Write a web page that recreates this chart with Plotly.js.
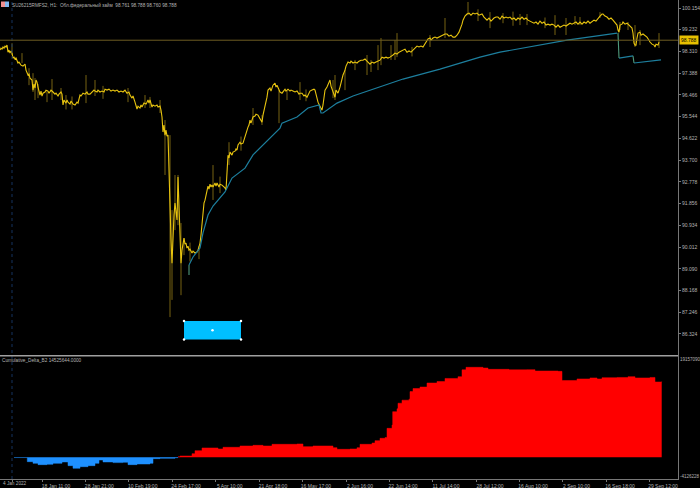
<!DOCTYPE html>
<html><head><meta charset="utf-8">
<script src="https://cdn.plot.ly/plotly-3.0.1.min.js"></script>
<style>html,body{margin:0;padding:0;background:#000;overflow:hidden}#c{width:700px;height:488px}</style>
</head><body><div id="c"></div>
<script>
// Price close path
const closeX=[0,1,2,3,4,5,6,7,8,9,10,11,12,13,14,15,16,18,19,21,23,25,26,28,29,30,32,33,34,35,36,37,38,39,40,41,42,43,45,46,48,49,51,53,55,56,58,59,61,62,63,64,66,67,68,70,71,73,75,77,78,80,81,83,85,87,88,90,92,94,95,97,98,100,102,104,105,107,109,111,113,115,117,119,121,123,125,127,129,130,132,133,135,136,137,138,140,141,142,144,146,147,148,149,150,152,153,155,157,158,160,161,162,
163,164,165,166,167,168,169,170,171,172,173,174,175,176,177,178,179,180,181,182,183,184,185,186,187,188,189,190,192,193,195,197,198,200,201,202,203,204,205,206,207,208,209,210,211,212,213,215,216,217,219,220,222,224,225,226,227,228,229,230,232,233,235,236,237,238,240,241,243,245,247,248,249,250,251,253,255,256,258,260,262,
263,265,266,267,268,270,271,273,275,276,277,279,280,282,284,285,286,288,290,291,293,295,297,299,300,302,304,305,307,309,310,312,314,315,317,318,320,322,323,324,325,327,328,330,331,333,335,336,338,340,341,342,343,345,346,348,350,351,353,355,357,359,361,363,365,367,368,370,372,374,376,378,380,382,384,386,388,390,392,393,395,397,399,401,403,405,407,409,411,413,415,417,419,421,423,425,427,428,430,431,433,435,437,439,441,443,445,447,449,451,453,455,457,459,460,462,463,465,467,469,471,473,475,477,479,481,482,484,486,487,489,491,492,494,496,498,500,502,504,506,508,510,512,514,516,518,520,522,524,526,528,530,532,534,536,538,540,542,544,546,548,550,552,554,556,558,560,562,564,566,568,570,572,574,576,578,580,582,584,586,588,590,592,594,596,598,600,602,603,605,607,609,611,613,615,617,618,619,620,622,623,625,627,629,631,632,633,634,635,636,637,638,640,641,643,645,647,649,650,652,654,655,656,658,659];
const closeP=[98.37,98.45,98.41,98.50,98.45,98.54,98.50,98.58,98.28,98.37,98.24,98.33,98.24,98.03,98.07,97.99,98.03,97.82,97.86,97.73,97.69,97.77,97.52,97.31,97.35,97.18,97.10,96.67,96.93,96.76,97.10,97.01,96.80,96.67,96.46,96.63,96.42,96.54,96.59,96.67,96.63,96.54,96.67,96.59,96.50,96.54,96.42,96.50,96.59,96.50,96.04,96.25,96.12,96.25,96.16,96.08,96.21,96.08,96.04,96.16,96.12,96.46,96.42,96.54,96.50,96.59,96.50,96.50,96.59,96.67,96.63,96.59,96.67,96.59,96.63,96.59,96.71,96.67,96.71,96.63,96.67,96.63,96.67,96.59,96.63,96.59,96.67,96.54,96.59,96.46,96.33,96.42,96.16,96.04,95.87,95.99,95.91,96.04,95.95,96.12,96.08,96.16,96.25,96.12,96.25,95.95,96.04,95.99,96.04,95.95,95.99,95.82,95.53,
94.89,95.19,94.76,94.97,94.72,94.76,93.28,91.45,90.31,89.33,90.86,91.37,91.88,91.49,91.16,92.98,92.00,90.52,89.33,89.88,90.10,90.39,90.14,90.18,89.97,90.05,89.88,89.92,89.76,89.84,89.76,89.80,89.88,90.18,90.52,91.03,91.37,91.88,92.00,92.22,92.52,92.60,92.47,92.68,92.56,92.64,92.56,92.73,92.60,92.73,92.56,92.68,92.64,92.56,92.52,92.43,93.28,93.91,93.79,94.04,93.91,94.04,94.08,94.17,94.13,94.34,94.46,94.38,94.42,94.72,94.97,95.10,95.19,95.40,95.27,95.53,95.57,95.65,95.61,95.48,95.31,
95.61,95.95,96.25,96.37,96.67,96.76,96.63,96.88,96.97,96.80,96.88,96.67,96.59,96.54,96.67,96.71,96.63,96.71,96.63,96.67,96.63,96.59,96.63,96.50,96.54,96.54,96.42,96.46,96.37,96.54,96.63,96.67,96.71,96.67,96.37,96.16,95.99,95.82,96.04,96.46,96.67,96.80,96.93,97.10,96.84,96.59,96.37,96.67,96.54,96.80,97.01,97.18,97.31,97.52,97.69,97.86,97.82,97.90,97.82,97.86,97.82,97.90,97.94,97.94,97.99,97.90,97.86,97.77,97.86,97.82,97.86,97.90,97.94,98.07,98.03,98.07,98.03,98.07,98.16,98.16,98.24,98.20,98.28,98.33,98.37,98.41,98.28,98.33,98.28,98.37,98.45,98.54,98.50,98.54,98.50,98.62,98.79,98.84,98.88,98.79,98.88,98.92,98.88,98.92,98.96,99.00,99.05,99.05,98.96,99.00,98.92,98.92,99.00,99.13,99.22,99.47,99.64,99.81,99.90,99.94,99.85,99.94,99.90,99.94,99.85,99.90,99.90,99.77,99.68,99.64,99.73,99.60,99.64,99.73,99.77,99.77,99.68,99.81,99.73,99.77,99.73,99.77,99.68,99.73,99.64,99.73,99.68,99.77,99.68,99.73,99.64,99.60,99.56,99.51,99.56,99.47,99.60,99.51,99.56,99.43,99.47,99.43,99.47,99.43,99.34,99.43,99.34,99.39,99.43,99.39,99.47,99.51,99.47,99.51,99.56,99.47,99.56,99.47,99.56,99.51,99.60,99.51,99.56,99.64,99.60,99.73,99.81,99.90,99.90,99.81,99.77,99.68,99.73,99.64,99.51,99.43,99.22,99.13,99.43,99.47,99.56,99.47,99.51,99.43,99.34,99.30,99.09,98.67,98.58,98.58,98.88,99.09,99.13,99.00,99.05,99.00,98.92,98.79,98.71,98.62,98.58,98.50,98.62,98.58,98.71];
// Wicks
const wickX=[12,22,29,33,35,38,47,52,61,66,72,86,95,103,128,145,150,160,165,170,172,175,178,181,184,190,199,213,220,229,241,253,262,279,287,300,306,333,335,345,355,367,371,378,381,391,395,397,412,430,445,468,478,490,503,513,520,527,545,555,566,575,580,600,620,628,635,640,659];
const wickHi=[98.66,98.24,97.60,97.39,97.18,96.93,96.67,97.14,96.76,96.46,96.40,97.31,97.10,96.85,96.76,96.46,96.38,96.25,95.40,94.76,91.58,93.07,93.07,91.03,90.39,90.20,90.05,93.49,93.00,94.46,94.70,95.91,95.61,96.67,96.67,97.01,96.70,97.10,97.31,97.52,97.95,98.16,97.95,98.58,98.88,98.58,98.79,99.09,98.50,99.01,99.73,100.41,100.10,99.98,99.94,100.00,99.90,99.90,99.75,99.85,99.73,99.81,99.77,99.98,99.56,99.56,99.43,99.22,99.09];
const wickLo=[98.16,97.82,96.88,96.59,96.25,96.33,96.16,96.25,96.25,95.85,95.85,96.12,96.42,96.30,96.16,95.91,95.91,95.70,93.07,87.04,87.77,90.73,90.94,87.97,89.67,89.40,89.50,92.01,92.30,93.49,94.10,95.19,95.19,95.27,96.25,96.25,96.20,96.33,96.25,96.67,97.52,97.31,97.44,97.52,97.73,97.95,97.95,98.07,98.10,98.50,98.88,99.85,99.60,99.30,99.51,99.40,99.43,99.43,99.30,99.01,99.01,99.43,99.43,99.73,99.22,99.22,98.50,98.58,98.46];
// Moving average line, with its break segments
const maX=[189,193,200,203,208,213,225,232,245,253,280,282,297,308,319,321,323,337,353,380,403,440,460,480,500,533,567,617];
const maP=[89.25,89.59,89.97,90.61,91.37,91.75,92.35,92.94,93.36,93.92,95.06,95.27,95.53,95.91,96.04,95.70,95.70,96.12,96.42,96.80,97.14,97.56,97.82,98.07,98.28,98.54,98.79,99.09];
const maX2=[619,633];
const maP2=[98.03,98.12];
const maX3=[634,661];
const maP3=[97.82,97.95];
const maBreakX=[189,189,null,618,619,null,633,634];
const maBreakP=[88.83,89.25,null,99.09,98.03,null,98.12,97.82];
// Cumulative delta
const negX=[14,27,27.3,33,38,47,53,62,68,73,80,88,95,99,103,113,123,128,137,150,153,160,175,178];
const negV=[-0.05,-0.07,-0.86,-1.19,-1.45,-1.38,-1.19,-0.92,-1.65,-2.17,-1.85,-1.65,-1.19,-0.53,-0.92,-1.05,-0.99,-1.45,-1.32,-1.19,-0.26,-0.2,-0.07,0];
const posX=[178,180,192,195,202,213,218,223,240,253,263,272,297,303,313,333,337,350,357,360,372,375,380,385,387,392,392.7,397,398,402,409,410,413,420,427,437,445,458,462,466,483,488,507,509,527,535,558,562,577,590,597,602,617,628,635,650,655,661.7];
const posV=[0.13,0.26,0.72,1.32,1.85,1.85,1.65,1.98,2.24,2.37,2.24,2.57,2.64,2.11,2.24,1.91,1.58,1.65,1.91,2.57,2.83,3.3,3.76,3.9,5.73,6.39,9.03,9.6,10.7,11.3,11.5,13.0,13.6,13.9,14.7,15.0,15.6,15.95,17.3,17.8,17.66,17.4,17.4,17.3,17.33,17.07,17.0,15.2,15.5,15.7,15.5,15.75,15.8,15.95,15.7,15.8,14.9,15.0];
// Tick labels
const priceTicks=[100.154,99.232,98.310,97.388,96.466,95.544,94.622,93.700,92.778,91.856,90.934,90.012,89.090,88.168,87.246,86.324];
const deltaTicks=[19.35,-3.85];
const deltaLabels=['19157090','-4126228'];
const timeTicks=[12,42,85.3,128.7,172,215.7,259,302,346,389,432,476,519,562.5,606,649];
const timeLabels=['','18 Jan 11:00','28 Jan 21:00','10 Feb 19:00','24 Feb 17:00','5 Apr 10:00','21 Apr 18:00','16 May 17:00','2 Jun 16:00','22 Jun 14:00','11 Jul 14:00','28 Jul 12:00','16 Aug 10:00','2 Sep 10:00','16 Sep 18:00','29 Sep 12:00'];
const firstLabel='4 Jan 2022';
const headerText='SU26215RMFS2, H1:  Обл.федеральный займ  98.761 98.788 98.760 98.788';
const indicatorText='Cumulative_Delta_B2 14525644.0000';
const lastPrice=98.788;
const rectX=[184,241];
const rectP=[86.87,86.09];

const wx=[],wy=[];
wickX.forEach((x,i)=>{wx.push(x,x,null);wy.push(wickHi[i],wickLo[i],null);});
const fam='Liberation Sans, Arial, sans-serif';
const tickFont={family:fam,size:5,color:'#b4b4b4'};
const traces=[
 {x:wx,y:wy,mode:'lines',line:{color:'#776312',width:1},hoverinfo:'skip'},
 {x:closeX,y:closeP,mode:'lines',line:{color:'#e8c40f',width:1.1},hoverinfo:'skip'},
 {x:maX,y:maP,mode:'lines',line:{color:'#1d7f9e',width:1.2},hoverinfo:'skip'},
 {x:maX2,y:maP2,mode:'lines',line:{color:'#1d7f9e',width:1.2},hoverinfo:'skip'},
 {x:maX3,y:maP3,mode:'lines',line:{color:'#1d7f9e',width:1.2},hoverinfo:'skip'},
 {x:maBreakX,y:maBreakP,mode:'lines',line:{color:'#4f9a7c',width:1.1},hoverinfo:'skip'},
 {x:[rectX[0],rectX[1],rectX[0],rectX[1],(rectX[0]+rectX[1])/2],y:[rectP[0],rectP[0],rectP[1],rectP[1],(rectP[0]+rectP[1])/2],mode:'markers',marker:{color:'#ffffff',size:2.5},hoverinfo:'skip'},
 {x:negX,y:negV,yaxis:'y2',mode:'lines',line:{shape:'hv',color:'#1e90ff',width:0.5},fill:'tozeroy',fillcolor:'#1e90ff',hoverinfo:'skip'},
 {x:posX,y:posV,yaxis:'y2',mode:'lines',line:{shape:'hv',color:'#ff0000',width:0.5},fill:'tozeroy',fillcolor:'#ff0000',hoverinfo:'skip'}
];
const layout={
 width:700,height:488,paper_bgcolor:'#000',plot_bgcolor:'#000',showlegend:false,
 margin:{l:0,r:22,t:0,b:9},
 xaxis:{range:[0,678],domain:[0,1],anchor:'y2',showgrid:false,zeroline:false,showline:true,linecolor:'#777',linewidth:1,
  tickmode:'array',tickvals:timeTicks,ticktext:timeLabels,ticks:'outside',ticklen:2,tickcolor:'#777',tickfont:tickFont,ticklabelshift:14,tickangle:0},
 yaxis:{range:[85.41,100.494],domain:[123.5/479,1],side:'right',anchor:'x',showgrid:false,zeroline:false,showline:true,linecolor:'#777',linewidth:1,
  tickmode:'array',tickvals:priceTicks,ticktext:priceTicks.map(v=>v.toFixed(3)),ticks:'outside',ticklen:2,tickcolor:'#777',tickfont:tickFont},
 yaxis2:{range:[-4.29,20.04],domain:[0,123/479],side:'right',anchor:'x',showgrid:false,zeroline:false,showline:true,linecolor:'#777',linewidth:1,
  tickmode:'array',tickvals:deltaTicks,ticktext:deltaLabels,ticks:'',tickfont:{family:fam,size:4.5,color:'#b4b4b4'}},
 shapes:[
  {type:'line',xref:'x',yref:'paper',x0:12,x1:12,y0:0,y1:1,line:{color:'#15325e',width:1,dash:'dot'}},
  {type:'line',xref:'x',yref:'y',x0:0,x1:678,y0:lastPrice,y1:lastPrice,line:{color:'#6e5c22',width:1}},
  {type:'line',xref:'x',yref:'paper',x0:0,x1:678,y0:123.3/479,y1:123.3/479,line:{color:'#a0a0a0',width:1.5}},
  {type:'rect',xref:'x',yref:'y',x0:rectX[0],x1:rectX[1],y0:rectP[0],y1:rectP[1],fillcolor:'#00bfff',line:{color:'#00bfff',width:0},layer:'below'},
  {type:'rect',xref:'paper',yref:'paper',x0:1/678,x1:5/678,y0:1-1.5/479,y1:1-7/479,fillcolor:'#f09090',line:{width:0}},
  {type:'rect',xref:'paper',yref:'paper',x0:5/678,x1:9/678,y0:1-1.5/479,y1:1-7/479,fillcolor:'#80b8f0',line:{width:0}}
 ],
 annotations:[
  {xref:'paper',yref:'paper',x:10/678,y:1-4.5/479,xanchor:'left',yanchor:'middle',showarrow:false,text:headerText,font:{family:fam,size:4.7,color:'#b4b4b4'}},
  {xref:'paper',yref:'paper',x:-0.5/678,y:1-360/479,xanchor:'left',yanchor:'middle',showarrow:false,text:indicatorText,font:{family:fam,size:4.7,color:'#b4b4b4'}},
  {xref:'paper',yref:'paper',x:0.5/678,y:-4.5/479,xanchor:'left',yanchor:'middle',showarrow:false,text:firstLabel,font:{family:fam,size:4.7,color:'#b4b4b4'}},
  {xref:'paper',yref:'y',x:1,xshift:1,y:lastPrice,xanchor:'left',yanchor:'middle',showarrow:false,text:lastPrice.toFixed(3),bgcolor:'#e8c000',borderpad:1,font:{family:fam,size:5,color:'#000'}}
 ]
};
Plotly.newPlot('c',traces,layout,{staticPlot:true,displayModeBar:false});
</script></body></html>
